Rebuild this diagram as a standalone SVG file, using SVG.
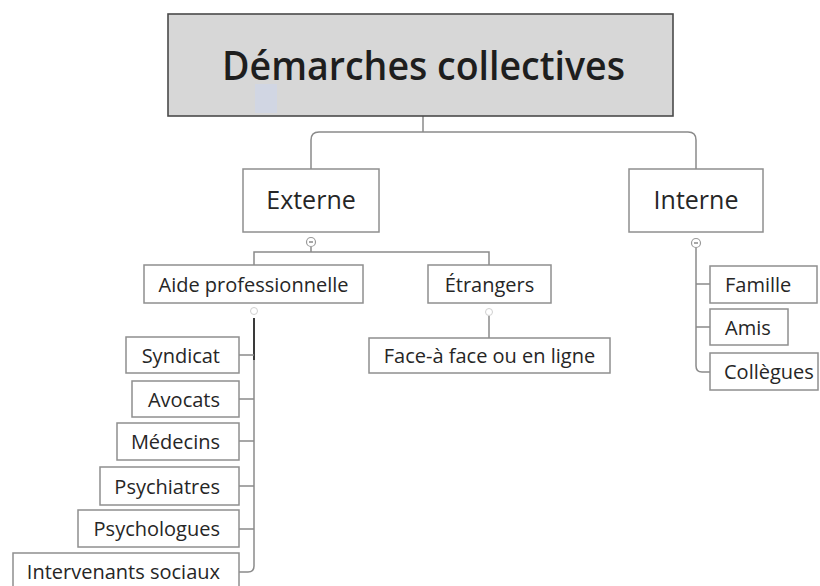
<svg xmlns="http://www.w3.org/2000/svg" width="820" height="586" viewBox="0 0 820 586">
  <style>
    .box { fill: #ffffff; stroke: #8f8f8f; stroke-width: 1.5; }
    .root { fill: #d7d7d7; stroke: #4a4a4a; stroke-width: 1.6; }
    .lbl { font-family: "Open Sans", "Noto Sans", "DejaVu Sans", sans-serif; font-size: 20px; fill: #262626; }
    .mid { font-size: 25px; }
    .title { font-family: "Open Sans", "Noto Sans", "DejaVu Sans", sans-serif; font-size: 40px; font-weight: 600; fill: #1e1e1e; }
    .wire { fill: none; stroke: #8a8a8a; stroke-width: 1.5; }
    .dark { stroke: #3a3a3a; stroke-width: 2; }
    .knob { fill: #ffffff; stroke: #9a9a9a; stroke-width: 1.2; }
    .knob-faint { fill: none; stroke: #d0d0d0; stroke-width: 1; }
  </style>
  <rect width="820" height="586" fill="#ffffff"/>

  <!-- connectors -->
  <g id="connectors">
    <!-- root to first level -->
    <path class="wire" d="M423 116 V132"/>
    <path class="wire" d="M311 169 V140 Q311 132 319 132 H688 Q696 132 696 140 V169"/>
    <!-- Externe to its branches -->
    <path class="wire" d="M311 247 V252"/>
    <path class="wire" d="M254 265 V252 H489 V265"/>
    <!-- Aide professionnelle to its list -->
    <path class="wire dark" d="M254 318 V360"/>
    <path class="wire" d="M254 360 V566 Q254 572 248 572 H239"/>
    <path class="wire" d="M239 355 H254"/>
    <path class="wire" d="M239 399 H254"/>
    <path class="wire" d="M239 441 H254"/>
    <path class="wire" d="M239 486 H254"/>
    <path class="wire" d="M239 529 H254"/>
    <!-- Étrangers to its child -->
    <path class="wire" d="M489 316 V338"/>
    <!-- Interne to its list -->
    <path class="wire" d="M696 247 V366 Q696 372 702 372 H710"/>
    <path class="wire" d="M696 284 H710"/>
    <path class="wire" d="M696 327 H710"/>
    <!-- collapse toggles -->
    <circle class="knob" cx="311" cy="242" r="4.5"/>
    <path class="wire" d="M309 242 H313" stroke-width="1"/>
    <circle class="knob" cx="696" cy="243" r="4.5"/>
    <path class="wire" d="M694 243 H698" stroke-width="1"/>
    <circle class="knob-faint" cx="254" cy="311" r="3.5"/>
    <circle class="knob-faint" cx="489" cy="312" r="3.5"/>
  </g>

  <!-- root -->
  <g id="node-root">
    <rect class="root" x="168" y="14" width="505" height="102"/>
    <rect x="255" y="84" width="22" height="29" fill="#cfd6e6" opacity="0.8"/>
    <text class="title" x="423.5" y="80" text-anchor="middle" textLength="403" lengthAdjust="spacingAndGlyphs">Démarches collectives</text>
  </g>

  <!-- first level -->
  <g id="node-externe">
    <rect class="box" x="243" y="169" width="136" height="63"/>
    <text class="lbl mid" x="311" y="209" text-anchor="middle">Externe</text>
  </g>
  <g id="node-interne">
    <rect class="box" x="629" y="169" width="134" height="63"/>
    <text class="lbl mid" x="696" y="209" text-anchor="middle">Interne</text>
  </g>

  <!-- second level -->
  <g id="node-aide">
    <rect class="box" x="144" y="265" width="219" height="38"/>
    <text class="lbl" x="253.5" y="291.5" text-anchor="middle">Aide professionnelle</text>
  </g>
  <g id="node-etrangers">
    <rect class="box" x="428" y="265" width="123" height="38"/>
    <text class="lbl" x="489.5" y="291.5" text-anchor="middle">Étrangers</text>
  </g>
  <g id="node-face">
    <rect class="box" x="369" y="338" width="241" height="35"/>
    <text class="lbl" x="489.5" y="362.5" text-anchor="middle">Face-à face ou en ligne</text>
  </g>

  <!-- professional help list -->
  <g id="node-syndicat">
    <rect class="box" x="126" y="337" width="113" height="36"/>
    <text class="lbl" x="220" y="362.5" text-anchor="end">Syndicat</text>
  </g>
  <g id="node-avocats">
    <rect class="box" x="132" y="381" width="107" height="36"/>
    <text class="lbl" x="220" y="406.5" text-anchor="end">Avocats</text>
  </g>
  <g id="node-medecins">
    <rect class="box" x="117" y="423" width="122" height="37"/>
    <text class="lbl" x="220" y="449" text-anchor="end">Médecins</text>
  </g>
  <g id="node-psychiatres">
    <rect class="box" x="100" y="467" width="139" height="38"/>
    <text class="lbl" x="220" y="493.5" text-anchor="end">Psychiatres</text>
  </g>
  <g id="node-psychologues">
    <rect class="box" x="78" y="510" width="161" height="37"/>
    <text class="lbl" x="220" y="536" text-anchor="end">Psychologues</text>
  </g>
  <g id="node-intervenants">
    <rect class="box" x="13" y="553" width="226" height="38"/>
    <text class="lbl" x="220" y="579" text-anchor="end">Intervenants sociaux</text>
  </g>

  <!-- internal list -->
  <g id="node-famille">
    <rect class="box" x="710" y="266" width="107" height="37"/>
    <text class="lbl" x="725" y="292" text-anchor="start">Famille</text>
  </g>
  <g id="node-amis">
    <rect class="box" x="710" y="309" width="78" height="36"/>
    <text class="lbl" x="725" y="334.5" text-anchor="start">Amis</text>
  </g>
  <g id="node-collegues">
    <rect class="box" x="710" y="353" width="108" height="37"/>
    <text class="lbl" x="724" y="379" text-anchor="start">Collègues</text>
  </g>
</svg>
